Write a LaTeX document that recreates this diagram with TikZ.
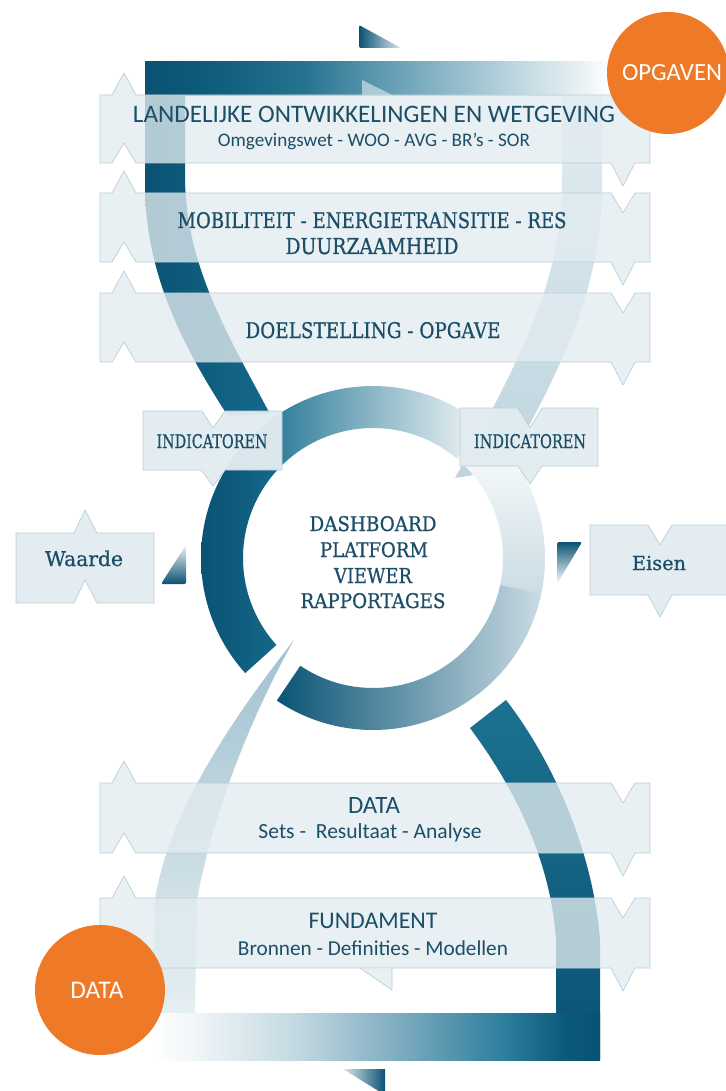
\documentclass[tikz,border=0pt]{standalone}
\usepackage{fontspec}
\setmainfont{Carlito}
\newfontfamily\museo[FakeBold=0.8]{DejaVu Serif}
\usepackage{graphicx}
\definecolor{dk}{HTML}{0A5273}
\definecolor{txt}{HTML}{1C4E68}
\definecolor{orng}{HTML}{EE7A27}
\definecolor{bfill}{HTML}{E2ECF0}
\definecolor{bline}{HTML}{BCCFD8}
\definecolor{arcl}{HTML}{BED4DE}
\definecolor{arct}{HTML}{E4EEF2}
\definecolor{c31}{HTML}{0D5A79}
\definecolor{c42}{HTML}{25738F}
\definecolor{c52}{HTML}{6AA1B7}
\definecolor{c63}{HTML}{B0CFDA}
\definecolor{c72}{HTML}{EAF2F5}
\definecolor{b30}{HTML}{F0F5F7}
\definecolor{b41}{HTML}{C3D9E2}
\definecolor{b53}{HTML}{7AAABE}
\definecolor{b64}{HTML}{2F7F9E}
\definecolor{b71}{HTML}{0B5A79}
\definecolor{ringtopL}{HTML}{176D8D}
\definecolor{ringtopM}{HTML}{7FB0C3}
\definecolor{ringtopR}{HTML}{F4F8FA}
\definecolor{ringleftR}{HTML}{15698A}
\definecolor{ringbotL}{HTML}{0A5475}
\definecolor{ringbotM}{HTML}{4F93AD}
\definecolor{ringbotR}{HTML}{C9DBE3}
\definecolor{ringright}{HTML}{C9DBE3}
\definecolor{lbandT}{HTML}{A0C1CF}
\definecolor{lbandB}{HTML}{E6EFF2}
\definecolor{darcT}{HTML}{1D7190}
\definecolor{trilight}{HTML}{DCE9EF}
\pgfdeclarehorizontalshading{topbar}{100bp}{color(0bp)=(dk); color(25bp)=(dk); color(31bp)=(c31); color(42bp)=(c42); color(52bp)=(c52); color(63bp)=(c63); color(72bp)=(c72); color(75bp)=(white); color(100bp)=(white)}
\pgfdeclarehorizontalshading{botbar}{100bp}{color(0bp)=(white); color(25bp)=(white); color(30bp)=(b30); color(41bp)=(b41); color(53bp)=(b53); color(64bp)=(b64); color(71bp)=(b71); color(75bp)=(dk); color(100bp)=(dk)}
\tikzset{
  banner/.style={fill=bfill, fill opacity=0.78, draw=bline, line width=0.7pt, line join=round},
  tagbox/.style={fill=bfill, fill opacity=0.96, draw=bline, line width=0.7pt, line join=round},
  lbl/.style={text=txt, inner sep=0pt, anchor=base},
  wlbl/.style={text=white, inner sep=0pt, anchor=base},
}
\newcommand{\fitw}[2]{\resizebox{#1pt}{!}{#2}}
\newcommand{\mtx}[3]{\resizebox{#1pt}{#2pt}{\museo #3}}
\newcommand{\mybanner}[2]{\path[banner] (100,#1) -- (112,#1) -- (124,{#1-22}) -- (136,#1) -- (611,#1) -- (623,{#1+20}) -- (635,#1) -- (650,#1) -- (650,#2) -- (635,#2) -- (623,{#2+23}) -- (611,#2) -- (136,#2) -- (124,{#2-20}) -- (112,#2) -- (100,#2) -- cycle;}
\newcommand{\ringseg}[3]{\path[#3] plot[domain=#1:#2,samples=60] ({373+172*cos(\x)},{558-172*sin(\x)}) -- plot[domain=#2:#1,samples=60] ({373+130*cos(\x)},{558-130*sin(\x)}) -- cycle;}
\begin{document}
\begin{tikzpicture}[x=1pt,y=-1pt]
\useasboundingbox (0,0) rectangle (725,1091);
\fill[white] (0,0) rectangle (725,1091);

% upper right light arc
\path[top color=arct, bottom color=arcl] (562,70) -- (602,70) -- (602,185) .. controls (602,290) and (560,370) .. (505,470) -- (455,478) .. controls (520,360) and (562,280) .. (562,185) -- cycle;
% upper left dark arc
\path[left color=dk, right color=ringleftR] (145,62) -- (185,62) -- (185,175) .. controls (185,265) and (228,335) .. (270,414) -- (228,416) .. controls (185,350) and (145,275) .. (145,185) -- cycle;
% top bar
\path[shading=topbar] (145,62) rectangle (610,96);
\fill[white, opacity=0.5] (362,80) -- (362,96) -- (394,96) -- cycle;
% top arrow triangle
\path[left color=dk, right color=trilight, rounded corners=2pt] (359,25) -- (359,48) -- (401,48) -- cycle;

% lower light band
\path[top color=lbandT, bottom color=lbandB] (294,640) .. controls (255,690) and (170,800) .. (155,900) -- (152,1013) -- (195,1013) -- (197,900) .. controls (215,800) and (260,700) .. (294,640) -- cycle;
% lower dark arc
\path[top color=darcT, bottom color=dk] (470,728) -- (506,700) .. controls (545,750) and (592,840) .. (600,940) -- (600,1060) -- (556,1060) -- (556,940) .. controls (550,850) and (505,775) .. (470,728) -- cycle;
% bottom bar
\path[shading=botbar] (152,1013) rectangle (600,1060);
% bottom arrow triangle
\path[left color=trilight, right color=dk] (343,1069) -- (385,1069) -- (385,1095) -- cycle;

% central ring
\ringseg{-14}{50}{top color=white, bottom color=ringright}
\ringseg{50}{136}{left color=ringtopL, middle color=ringtopM, right color=ringtopR}
\ringseg{136}{222}{left color=dk, right color=ringleftR}
\ringseg{236}{348}{left color=ringbotL, middle color=ringbotM, right color=ringbotR}

% small arrow triangles
\path[top color=b30, bottom color=dk, rounded corners=1.5pt] (161,584) -- (186,584) -- (186,545) -- cycle;
\path[top color=dk, bottom color=white, rounded corners=1.5pt] (557,542) -- (582,542) -- (557,584) -- cycle;

% banners
\mybanner{95}{163}
\mybanner{193}{262}
\mybanner{293}{362}
\mybanner{783}{853}
\mybanner{898}{968}
\path[banner] (360,968) -- (392,990) -- (392,968);

% tag boxes
\path[tagbox] (143,411) -- (202,411) -- (213,428) -- (225,411) -- (282,411) -- (282,470) -- (225,470) -- (213,486) -- (201,470) -- (143,470) -- cycle;
\path[tagbox] (460,408) -- (518,408) -- (530,428) -- (542,408) -- (598,408) -- (598,466) -- (542,466) -- (530,484) -- (518,466) -- (460,466) -- cycle;
\path[tagbox] (16,533) -- (74,533) -- (85,510) -- (97,533) -- (154,533) -- (154,603) -- (97,603) -- (85,580) -- (74,603) -- (16,603) -- cycle;
\path[tagbox] (590,525) -- (648,525) -- (660,545) -- (672,525) -- (727,525) -- (727,595) -- (672,595) -- (660,617) -- (648,595) -- (590,595) -- cycle;

% orange circles
\node[circle, fill=orng, minimum size=122pt, inner sep=0pt] (copg) at (668,73) {};
\node[circle, fill=orng, minimum size=130pt, inner sep=0pt] (cdata) at (100,990) {};

% texts
\node[lbl] (tland) at (374,123) {\fitw{482}{LANDELIJKE ONTWIKKELINGEN EN WETGEVING}};
\node[lbl] (tomg) at (374,147) {\fitw{312}{Omgevingswet - WOO - AVG - BR’s - SOR}};
\node[lbl] (tmob) at (372,228) {\mtx{389}{16}{MOBILITEIT - ENERGIETRANSITIE - RES}};
\node[lbl] (tduur) at (372,254) {\mtx{173}{16}{DUURZAAMHEID}};
\node[lbl] (tdoel) at (373,338) {\mtx{255}{16}{DOELSTELLING - OPGAVE}};
\node[lbl] (tind1) at (212,448) {\mtx{111}{14}{INDICATOREN}};
\node[lbl] (tind2) at (530,448) {\mtx{112}{14}{INDICATOREN}};
\node[lbl] (tdash) at (373,531) {\mtx{127}{15}{DASHBOARD}};
\node[lbl] (tplat) at (374,557) {\mtx{108}{15}{PLATFORM}};
\node[lbl] (tview) at (373,583) {\mtx{78}{15}{VIEWER}};
\node[lbl] (trapp) at (373,608) {\mtx{145}{15}{RAPPORTAGES}};
\node[lbl] (twaar) at (84,566) {\fitw{78}{\museo Waarde}};
\node[lbl] (teisen) at (659,570) {\fitw{54}{\museo Eisen}};
\node[lbl] (tdata) at (374,813) {\fitw{52}{DATA}};
\node[lbl] (tsets) at (370,838) {\fitw{223}{Sets -\ \ Resultaat - Analyse}};
\node[lbl] (tfund) at (373,928) {\fitw{129}{FUNDAMENT}};
\node[lbl] (tbron) at (373,955) {\fitw{270}{Bronnen - Definities - Modellen}};
\node[wlbl] (topg) at (672,81) {\fitw{100}{OPGAVEN}};
\node[wlbl] (tdatac) at (97,998) {\fitw{53}{DATA}};
\end{tikzpicture}
\end{document}
